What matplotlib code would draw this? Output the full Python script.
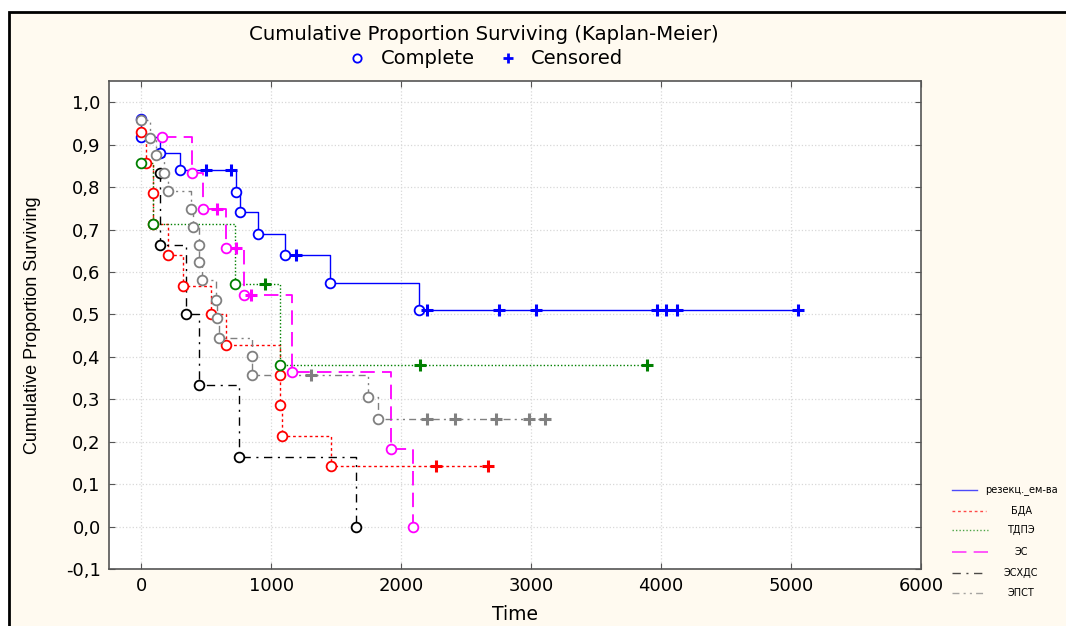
import numpy as np
import matplotlib
matplotlib.use('Agg')
import matplotlib.pyplot as plt
from matplotlib.lines import Line2D
from matplotlib.patches import Rectangle

plt.rcParams['font.family'] = ['DejaVu Sans']

# event times (Complete) and survival after each event, censored times
blue_t = [0, 0, 139, 293, 729, 755, 896, 1102, 1448, 2134]
blue_s = [0.96, 0.918, 0.88, 0.84, 0.788, 0.741, 0.69, 0.639, 0.575, 0.511]
blue_c = [498, 691, 1192, 2194, 2751, 3040, 3970, 4035, 4119, 5056]

red_t = [0, 36, 87, 92, 203, 318, 532, 652, 1063, 1063, 1084, 1461]
red_s = [0.929, 0.857, 0.786, 0.714, 0.641, 0.568, 0.502, 0.429, 0.357, 0.286, 0.214, 0.142]
red_c = [2270, 2668]

green_t = [0, 92, 716, 1063]
green_s = [0.857, 0.714, 0.571, 0.38]
green_c = [948, 2147, 3888]

mag_t = [156, 387, 473, 647, 790, 1161, 1923, 2088]
mag_s = [0.917, 0.833, 0.748, 0.656, 0.546, 0.364, 0.182, 0.0]
mag_c = [580, 729, 840]

black_t = [139, 144, 344, 441, 750, 1654]
black_s = [0.833, 0.664, 0.5, 0.333, 0.165, 0.0]
black_c = []

gray_t = [0, 67, 113, 177, 203, 383, 396, 441, 441, 467, 575, 580, 596, 853, 853, 1744, 1821]
gray_s = [0.958, 0.916, 0.875, 0.833, 0.79, 0.748, 0.706, 0.664, 0.623, 0.58,
          0.535, 0.491, 0.445, 0.401, 0.356, 0.305, 0.254]
gray_c = [1307, 2194, 2417, 2725, 2982, 3105]

names = ['резекц._ем-ва', 'БДА', 'ТДПЭ', 'ЭС', 'ЭСХДС', 'ЭПСТ']

groups = [
    (blue_t, blue_s, blue_c, '#0000ff', '-', 1.0),
    (red_t, red_s, red_c, '#ff0000', (0, (2, 2)), 1.0),
    (green_t, green_s, green_c, '#008000', (0, (1, 1.5)), 1.0),
    (mag_t, mag_s, mag_c, '#ff00ff', (0, (8, 4)), 1.3),
    (black_t, black_s, black_c, '#000000', (0, (6, 4, 1.5, 4)), 1.0),
    (gray_t, gray_s, gray_c, '#808080', (0, (5, 3, 1.5, 3, 1.5, 3)), 1.0),
]

fig = plt.figure(figsize=(10.66, 6.26), dpi=100, facecolor='white')
fig.patches.append(Rectangle((9 / 1066, -0.01), 1.0, 1 - 12 / 626 + 0.01,
                             transform=fig.transFigure, facecolor='#fffaf0',
                             edgecolor='black', linewidth=2, zorder=-10))

ax = fig.add_axes([109 / 1066, 57 / 626, 812 / 1066, 488 / 626])
ax.set_facecolor('white')

for t, s, c, col, ls, lw in groups:
    t = np.array(t, dtype=float)
    s = np.array(s, dtype=float)
    c = np.array(c, dtype=float)
    # survival level at each censored time = level after last event before it
    idx = np.searchsorted(t, c, side='right') - 1
    cs = s[idx] if len(c) else np.array([])
    xs = np.concatenate([t, c])
    ys = np.concatenate([s, cs])
    order = np.lexsort((-ys, xs))
    ax.step(xs[order], ys[order], where='post', color=col, linestyle=ls, linewidth=lw, zorder=2)
    ax.plot(t, s, linestyle='none', marker='o', markersize=7, markerfacecolor='white',
            markeredgecolor=col, markeredgewidth=1.3, zorder=3)
    if len(c):
        ax.plot(c, cs, linestyle='none', marker='+', markersize=8,
                markeredgewidth=2.2, color=col, zorder=3)

ax.set_xlim(-250, 6000)
ax.set_ylim(-0.1, 1.05)
ax.set_xticks(np.arange(0, 6001, 1000))
yt = np.round(np.arange(-0.1, 1.01, 0.1), 1)
ax.set_yticks(yt)
ax.set_yticklabels([('%.1f' % v).replace('.', ',') for v in yt])
ax.tick_params(direction='in', length=4, top=True, right=True, labelsize=13,
               color='#555555', pad=6)
ax.grid(True, color='#d8d8d8', linestyle=':', linewidth=0.9)
for sp in ax.spines.values():
    sp.set_color('#555555')
    sp.set_linewidth(1.2)

fig.text(33 / 1066, 1 - 325 / 626, 'Cumulative Proportion Surviving', rotation=90,
         ha='center', va='center', fontsize=13,
         family=['Liberation Sans', 'DejaVu Sans'])
fig.text(515 / 1066, 1 - 614 / 626, 'Time', ha='center', va='center', fontsize=13.5)

fig.text(484 / 1066, 1 - 35 / 626, 'Cumulative Proportion Surviving (Kaplan-Meier)',
         ha='center', va='center', fontsize=14.2)
fig.add_artist(Line2D([357 / 1066], [1 - 58 / 626], transform=fig.transFigure,
                      marker='o', markersize=6, markerfacecolor='white',
                      markeredgecolor='#0000ff', markeredgewidth=1.3))
fig.text(381 / 1066, 1 - 58 / 626, 'Complete', ha='left', va='center', fontsize=14)
fig.add_artist(Line2D([508 / 1066], [1 - 58 / 626], transform=fig.transFigure,
                      marker='+', markersize=7, markeredgewidth=2,
                      color='#0000ff'))
fig.text(531 / 1066, 1 - 58 / 626, 'Censored', ha='left', va='center', fontsize=14)

# legend on the right
rows = [490, 511, 530, 552, 573, 593]
ends = [977, 986, 988, 988, 986, 986]
for (t, s, c, col, ls, lw), name, yy, xe in zip(groups, names, rows, ends):
    yf = 1 - yy / 626
    fig.add_artist(Line2D([952 / 1066, xe / 1066], [yf, yf], transform=fig.transFigure,
                          color=col, linestyle=ls, linewidth=lw, alpha=0.7))
    fig.text(1021 / 1066, yf, name, ha='center', va='center', fontsize=7)

fig.savefig('out.png', dpi=100, facecolor=fig.get_facecolor())
